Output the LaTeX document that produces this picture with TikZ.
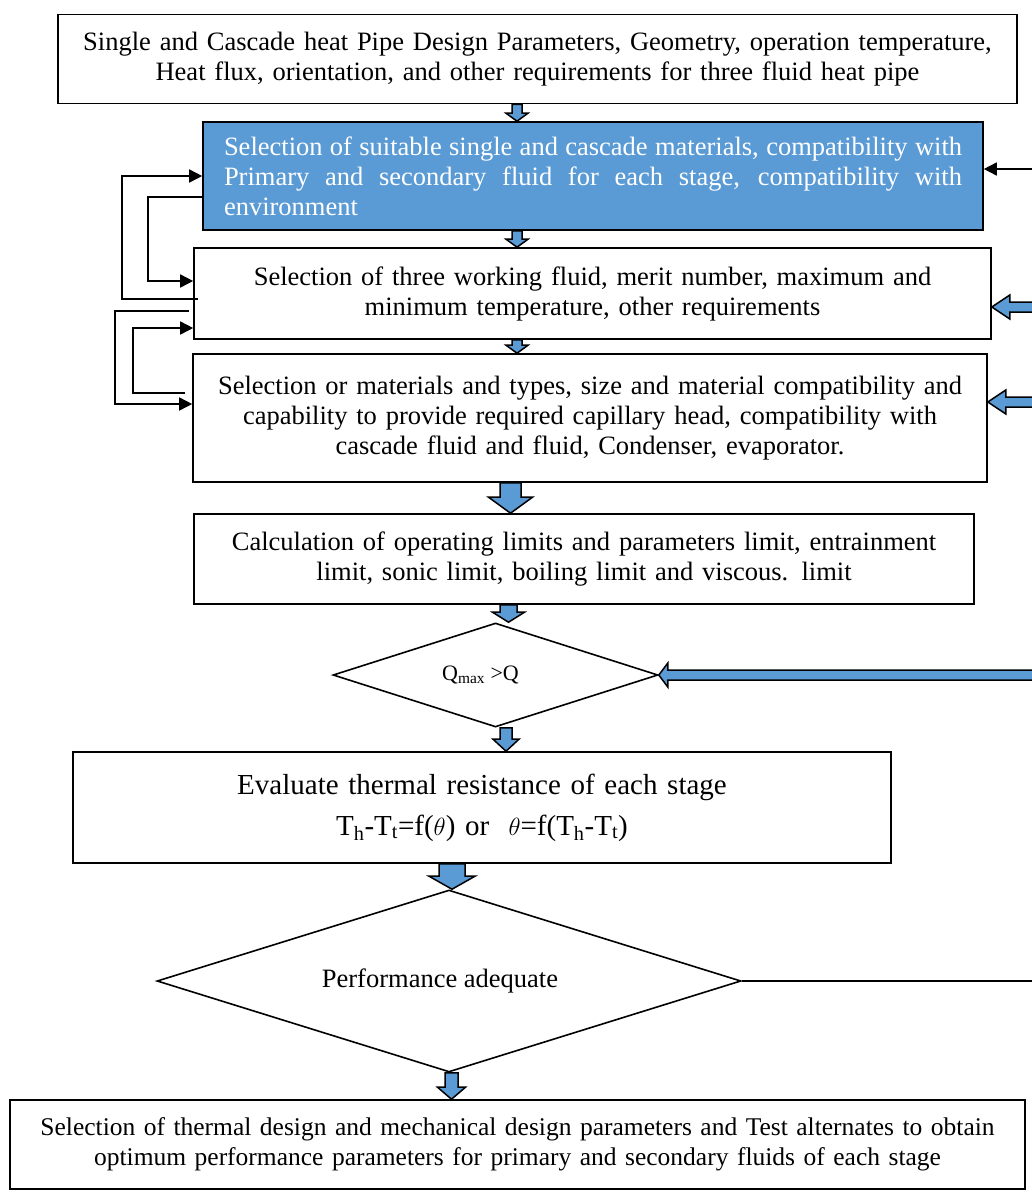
\documentclass[tikz,border=0pt]{standalone}
\usepackage{fontspec}
\setmainfont{Liberation Serif}
\usetikzlibrary{arrows.meta,shapes.geometric,calc}

\definecolor{stageblue}{HTML}{5B9BD5}

\newcommand{\blockdown}[5]{%
  \draw[blockarrow] let \p1=(#1), \p2=(#2) in
    (\x1-#3,\y1) -- (\x1+#3,\y1) -- (\x1+#3,\y2+#5) -- (\x1+#4,\y2+#5)
    -- (\x1,\y2) -- (\x1-#4,\y2+#5) -- (\x1-#3,\y2+#5) -- cycle;}
\newcommand{\blockleft}[5]{%
  \draw[blockarrow] let \p1=(#1), \p2=(#2) in
    (\x1,\y1+#3) -- (\x2+#5,\y1+#3) -- (\x2+#5,\y1+#4) -- (\x2,\y1)
    -- (\x2+#5,\y1-#4) -- (\x2+#5,\y1-#3) -- (\x1,\y1-#3) -- cycle;}

\begin{document}
\begin{tikzpicture}[x=1pt,y=-1pt,
  stepbox/.style={draw=black, line width=1.6pt, inner sep=0pt, align=center,
    font=\fontsize{26.5}{30}\selectfont},
  decision/.style={diamond, draw=black, line width=1.6pt, inner sep=0pt, aspect=3},
  blockarrow/.style={fill=stageblue, draw=black, line width=1.5pt, line join=miter},
  flowline/.style={draw=black, line width=1.6pt, -{Triangle[length=13pt,width=13pt]}},
  plainline/.style={draw=black, line width=1.6pt}]
\useasboundingbox (0,0) rectangle (1032,1192);

\node[stepbox, minimum width=959, minimum height=89, text width=950] (b1) at (537.5,59)
  {Single and Cascade heat Pipe Design Parameters, Geometry, operation temperature,\\
   Heat flux, orientation, and other requirements for three fluid heat pipe};
\node[stepbox, fill=stageblue, text=white, minimum width=780, minimum height=108,
  text width=738, align=justify] (b2) at (593,176)
  {Selection of suitable single and cascade materials, compatibility with\linebreak
   Primary and secondary fluid for each stage, compatibility with\linebreak environment};
\node[stepbox, minimum width=797, minimum height=91, text width=790] (b3) at (592.5,293.5)
  {Selection of three working fluid, merit number, maximum and\\
   minimum temperature, other requirements};
\node[stepbox, minimum width=794, minimum height=128, text width=785] (b4) at (590,418)
  {Selection or materials and types, size and material compatibility and\\
   capability to provide required capillary head, compatibility with\\
   cascade fluid and fluid, Condenser, evaporator.};
\node[stepbox, minimum width=780, minimum height=90, text width=770] (b5) at (584,559)
  {Calculation of operating limits and parameters limit, entrainment\\
   limit, sonic limit, boiling limit and viscous. limit};
\node[decision, minimum width=325, minimum height=104, font=\fontsize{22}{26}\selectfont]
  (d1) at (495.5,675) {\hspace*{-30pt}Q\textsubscript{max} >Q};
\node[stepbox, minimum width=818, minimum height=111, text width=810,
  font=\fontsize{29}{33}\selectfont] (b6) at (482,807.5)
  {Evaluate thermal resistance of each stage\\[8pt]
   T\textsubscript{h}-T\textsubscript{t}=f($\theta$) or \ $\theta$=f(T\textsubscript{h}-T\textsubscript{t})};
\node[decision, minimum width=584, minimum height=182, font=\fontsize{26.5}{30}\selectfont]
  (d2) at (449,981) {\hspace*{-18pt}Performance adequate};
\node[stepbox, minimum width=1015, minimum height=89, text width=1005,
  font=\fontsize{25.5}{30}\selectfont] (b7) at (517.5,1144.5)
  {Selection of thermal design and mechanical design parameters and Test alternates to obtain\\
   optimum performance parameters for primary and secondary fluids of each stage};

\blockdown{517,0 |- b1.south}{517,0 |- b2.north}{5pt}{11pt}{8pt}
\blockdown{517,0 |- b2.south}{517,0 |- b3.north}{5pt}{11pt}{8pt}
\blockdown{517,0 |- b3.south}{517,0 |- b4.north}{5pt}{11pt}{8pt}
\blockdown{510.5,0 |- b4.south}{510.5,0 |- b5.north}{10.5pt}{22pt}{16pt}
\blockdown{508.5,0 |- b5.south}{508.5,0 |- d1.north}{8.5pt}{16pt}{10pt}
\blockdown{506,0 |- d1.south}{506,0 |- b6.north}{6pt}{13pt}{12pt}
\blockdown{452,0 |- b6.south}{452,0 |- d2.north}{13pt}{23pt}{13pt}
\blockdown{451.5,0 |- d2.south}{451.5,0 |- b7.north}{6.5pt}{14pt}{12pt}

\coordinate (r2) at (1040,169);
\coordinate (r3) at (1040,307);
\coordinate (r4) at (1040,402);
\coordinate (r5) at (1040,984);
\draw[flowline] (r2) -- (r2 -| b2.east);
\blockleft{r3}{r3 -| b3.east}{5pt}{12pt}{18pt}
\blockleft{r4}{r4 -| b4.east}{5pt}{12pt}{18pt}
\blockleft{1040,0 |- d1.east}{d1.east}{5pt}{12pt}{9pt}
\draw[plainline] (d2.east) -- (d2.east -| r5);

\coordinate (l1) at (198,299);
\coordinate (l3) at (189,311);
\coordinate (l4) at (185,393);
\draw[flowline] (l1) -| (122,176) -- (b2.west);
\draw[flowline] (b2.west |- 0,197) -| (148,281) -- (b3.west |- 0,281);
\draw[flowline] (l3) -| (115,404) -- (b4.west |- 0,404);
\draw[flowline] (l4) -| (133,328) -- (b3.west |- 0,328);
\end{tikzpicture}
\end{document}
